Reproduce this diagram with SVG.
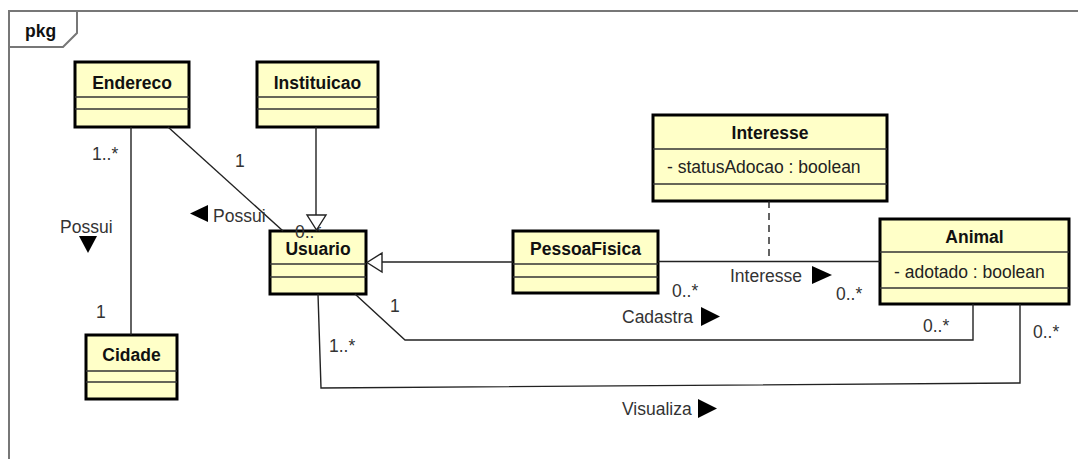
<svg xmlns="http://www.w3.org/2000/svg" width="1078" height="459" viewBox="0 0 1078 459">
  <style>
    .cls { fill: #ffffc8; stroke: #000; stroke-width: 3; }
    .sep { stroke: #333; stroke-width: 1.3; fill: none; }
    .name { font-family: "Liberation Sans", Arial, sans-serif; font-size: 17.5px; font-weight: bold; fill: #111; text-anchor: middle; }
    .attr { font-family: "Liberation Sans", Arial, sans-serif; font-size: 17.5px; fill: #222; }
    .lbl { font-family: "Liberation Sans", Arial, sans-serif; font-size: 17.5px; fill: #333; }
    .edge { stroke: #222; stroke-width: 1.4; fill: none; }
    .dash { stroke: #222; stroke-width: 1.4; fill: none; stroke-dasharray: 7 5; }
    .gen { fill: #fff; stroke: #222; stroke-width: 1.4; }
    .dir { fill: #000; }
  </style>

  <rect width="1078" height="459" fill="#fff"/>

  <!-- package frame -->
  <g id="frame">
    <rect x="9" y="11" width="1080" height="460" fill="none" stroke="#777" stroke-width="2"/>
    <path d="M9,47 L63,47 L77,33 L77,11" fill="none" stroke="#777" stroke-width="2"/>
    <text x="25" y="37" class="name" style="text-anchor:start">pkg</text>
  </g>

  <!-- classes -->
  <g id="Endereco">
    <rect x="75" y="62" width="114" height="65" class="cls"/>
    <line x1="75" y1="97" x2="189" y2="97" class="sep"/>
    <line x1="75" y1="109" x2="189" y2="109" class="sep"/>
    <text x="132" y="89" class="name">Endereco</text>
  </g>

  <g id="Instituicao">
    <rect x="257" y="62" width="121" height="65" class="cls"/>
    <line x1="257" y1="97" x2="378" y2="97" class="sep"/>
    <line x1="257" y1="109" x2="378" y2="109" class="sep"/>
    <text x="317.5" y="89" class="name">Instituicao</text>
  </g>

  <g id="Usuario">
    <rect x="270" y="231" width="96" height="63" class="cls"/>
    <line x1="270" y1="264" x2="366" y2="264" class="sep"/>
    <line x1="270" y1="277" x2="366" y2="277" class="sep"/>
    <text x="318" y="255" class="name">Usuario</text>
  </g>

  <g id="Cidade">
    <rect x="86" y="335" width="91" height="64" class="cls"/>
    <line x1="86" y1="371" x2="177" y2="371" class="sep"/>
    <line x1="86" y1="382" x2="177" y2="382" class="sep"/>
    <text x="131.5" y="361" class="name">Cidade</text>
  </g>

  <g id="PessoaFisica">
    <rect x="513" y="231" width="145" height="62" class="cls"/>
    <line x1="513" y1="264" x2="658" y2="264" class="sep"/>
    <line x1="513" y1="277" x2="658" y2="277" class="sep"/>
    <text x="585.5" y="255" class="name">PessoaFisica</text>
  </g>

  <g id="Interesse">
    <rect x="653" y="115" width="234" height="86" class="cls"/>
    <line x1="653" y1="149" x2="887" y2="149" class="sep"/>
    <line x1="653" y1="184" x2="887" y2="184" class="sep"/>
    <text x="770" y="139" class="name">Interesse</text>
    <text x="667" y="173" class="attr">- statusAdocao : boolean</text>
  </g>

  <g id="Animal">
    <rect x="880" y="219" width="189" height="85" class="cls"/>
    <line x1="880" y1="252" x2="1069" y2="252" class="sep"/>
    <line x1="880" y1="288" x2="1069" y2="288" class="sep"/>
    <text x="974.5" y="243" class="name">Animal</text>
    <text x="894" y="278" class="attr">- adotado : boolean</text>
  </g>

  <!-- associations, generalizations and their labels -->
  <g id="connectors">
    <!-- Endereco - Cidade -->
    <line x1="131" y1="127" x2="131" y2="335" class="edge"/>
    <text x="92" y="160" class="lbl">1..*</text>
    <text x="96" y="318" class="lbl">1</text>
    <text x="60" y="233" class="lbl">Possui</text>
    <polygon points="79,236 97,236 88,253" class="dir"/>

    <!-- Endereco - Usuario -->
    <line x1="168" y1="127" x2="283" y2="231" class="edge"/>
    <text x="235" y="167" class="lbl">1</text>
    <polygon points="190,213.5 208,205 208,222" class="dir"/>
    <text x="213" y="222" class="lbl">Possui</text>
    <text x="295" y="238" class="lbl">0..*</text>

    <!-- Instituicao -> Usuario -->
    <line x1="316" y1="127" x2="316" y2="215" class="edge"/>
    <polygon points="307,215 326,215 316.5,230" class="gen"/>

    <!-- PessoaFisica -> Usuario -->
    <line x1="382" y1="262" x2="513" y2="262" class="edge"/>
    <polygon points="382,253 382,272 367,262.5" class="gen"/>

    <!-- PessoaFisica - Animal -->
    <line x1="658" y1="261.5" x2="880" y2="261.5" class="edge"/>
    <text x="672" y="297" class="lbl">0..*</text>
    <text x="730" y="282" class="lbl">Interesse</text>
    <polygon points="812,266 832,275 812,284" class="dir"/>
    <text x="836" y="300" class="lbl">0..*</text>

    <!-- association class link -->
    <line x1="769" y1="201" x2="769" y2="261" class="dash"/>

    <!-- Usuario - Animal (Cadastra) -->
    <polyline points="355,294 405,340 973,340 973,304" class="edge"/>
    <text x="390" y="312" class="lbl">1</text>
    <text x="622" y="323" class="lbl">Cadastra</text>
    <polygon points="701,307 720,316.5 701,326" class="dir"/>
    <text x="923" y="332" class="lbl">0..*</text>

    <!-- Usuario - Animal (Visualiza) -->
    <polyline points="318,294 321,388 1020,383 1020,304" class="edge"/>
    <text x="329" y="352" class="lbl">1..*</text>
    <text x="622" y="415" class="lbl">Visualiza</text>
    <polygon points="698,399 717,408.5 698,418" class="dir"/>
    <text x="1033" y="338" class="lbl">0..*</text>
  </g>
</svg>
